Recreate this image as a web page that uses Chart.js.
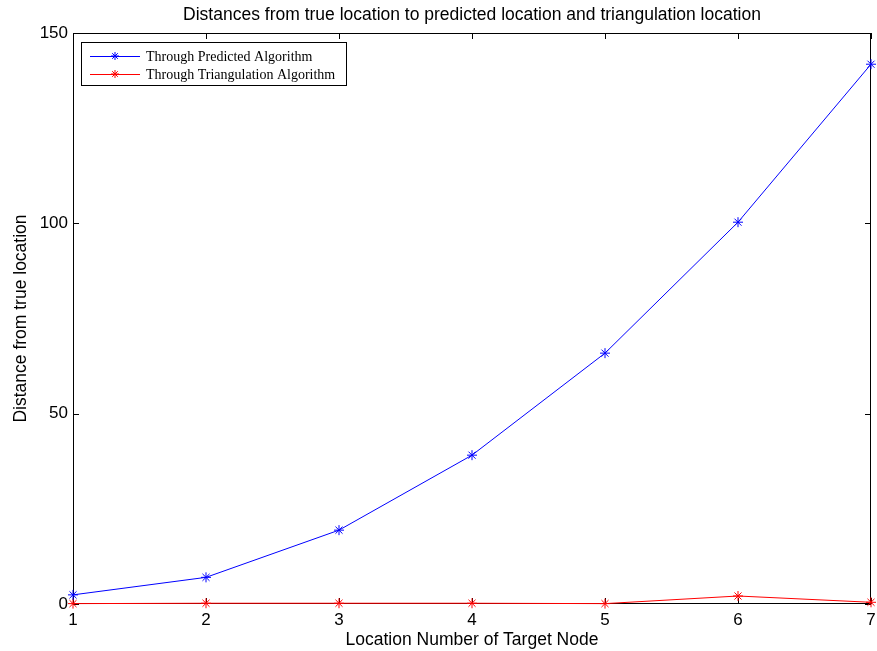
<!DOCTYPE html>
<html>
<head>
<meta charset="utf-8">
<script src="https://cdn.jsdelivr.net/npm/chart.js@4"></script>
<style>
  html,body{margin:0;padding:0;background:#fff;}
  #wrap{width:877px;height:651px;}
</style>
</head>
<body>
<div id="wrap"><canvas id="c" width="877" height="651"></canvas></div>
<script>
/* ---------------- data ---------------- */
const locations   = [1, 2, 3, 4, 5, 6, 7];
const predicted   = [2.4, 7.0, 19.4, 39.1, 65.9, 100.3, 141.8];
const triangulate = [0.1, 0.2, 0.2, 0.2, 0.1, 2.1, 0.45];
const yTicks      = [0, 50, 100, 150];

const pts = ys => locations.map((x,i)=>({x, y:ys[i]}));

/* ---------------- plugins ---------------- */
// MATLAB style box with inward ticks on all four sides (under the lines)
const boxTicks = {
  id:'boxTicks',
  beforeDatasetsDraw(chart){
    const {ctx, chartArea:a, scales:{x, y}} = chart;
    const L = 6;
    ctx.save();
    ctx.strokeStyle = '#000';
    ctx.lineWidth = 1;
    ctx.beginPath();
    locations.forEach(v=>{
      const px = Math.round(x.getPixelForValue(v)) + 0.5;
      ctx.moveTo(px, a.bottom); ctx.lineTo(px, a.bottom - L);
      ctx.moveTo(px, a.top);    ctx.lineTo(px, a.top + L);
    });
    yTicks.forEach(v=>{
      const py = Math.round(y.getPixelForValue(v)) + 0.5;
      ctx.moveTo(a.left, py);  ctx.lineTo(a.left + L, py);
      ctx.moveTo(a.right, py); ctx.lineTo(a.right - L, py);
    });
    ctx.stroke();
    ctx.strokeRect(Math.round(a.left)+0.5, Math.round(a.top)+0.5,
                   Math.round(a.right-a.left)-1, Math.round(a.bottom-a.top)-1);
    ctx.restore();
  }
};

// legend box inside the plot, top-left
const boxLegend = {
  id:'boxLegend',
  afterDraw(chart){
    const {ctx, chartArea:a} = chart;
    const bx = a.left + 8, by = a.top + 9, bw = 265, bh = 43;
    ctx.save();
    ctx.fillStyle = '#fff';
    ctx.fillRect(bx, by, bw, bh);
    ctx.strokeStyle = '#000';
    ctx.lineWidth = 1;
    ctx.strokeRect(bx + 0.5, by + 0.5, bw, bh);
    ctx.font = '14px "Liberation Serif", "Times New Roman", serif';
    ctx.textBaseline = 'middle';
    chart.data.datasets.forEach((ds,i)=>{
      const ry = by + 14 + i*18;
      ctx.strokeStyle = ds.borderColor;
      ctx.beginPath();
      ctx.moveTo(bx + 9, ry + 0.5); ctx.lineTo(bx + 59, ry + 0.5);
      ctx.stroke();
      // asterisk marker
      const cx = bx + 34, r = 4;
      ctx.beginPath();
      ctx.moveTo(cx, ry - r); ctx.lineTo(cx, ry + r);
      ctx.moveTo(cx - r, ry); ctx.lineTo(cx + r, ry);
      ctx.moveTo(cx - r*0.7, ry - r*0.7); ctx.lineTo(cx + r*0.7, ry + r*0.7);
      ctx.moveTo(cx - r*0.7, ry + r*0.7); ctx.lineTo(cx + r*0.7, ry - r*0.7);
      ctx.stroke();
      ctx.fillStyle = '#000';
      ctx.fillText(ds.label, bx + 65, ry + 1);
    });
    ctx.restore();
  }
};

/* ---------------- chart ---------------- */
const font  = {family:'"Liberation Sans", Arial, sans-serif', size:17};
const tfont = {family:'"Liberation Sans", Arial, sans-serif', size:17.5};

new Chart(document.getElementById('c'),{
  type:'line',
  data:{
    datasets:[
      {label:'Through Predicted Algorithm', data:pts(predicted),
       borderColor:'#0000ff', backgroundColor:'#0000ff', borderWidth:1,
       pointStyle:'star', pointRadius:5, pointBorderWidth:1, tension:0, clip:false},
      {label:'Through Triangulation Algorithm', data:pts(triangulate),
       borderColor:'#ff0000', backgroundColor:'#ff0000', borderWidth:1,
       pointStyle:'star', pointRadius:5, pointBorderWidth:1, tension:0, clip:false}
    ]
  },
  options:{
    responsive:false,
    animation:false,
    layout:{padding:{left:0, right:5, top:0, bottom:0}},
    plugins:{
      legend:{display:false},
      tooltip:{enabled:false},
      title:{display:true, fullSize:false,
             text:'Distances from true location to predicted location and triangulation location',
             color:'#000', font:{...tfont, weight:'normal'}, padding:{top:5, bottom:7}}
    },
    scales:{
      x:{type:'linear', min:1, max:7,
         afterBuildTicks:s=>{ s.ticks = locations.map(v=>({value:v})); },
         afterFit:s=>{ s.height = 47; s.paddingLeft = 0; s.paddingRight = 0; },
         grid:{display:false, drawTicks:false},
         border:{display:false},
         ticks:{color:'#000', font, padding:6, maxRotation:0},
         title:{display:true, text:'Location Number of Target Node', color:'#000', font:tfont, padding:{top:0, bottom:0}}},
      y:{type:'linear', min:0, max:150,
         afterBuildTicks:s=>{ s.ticks = yTicks.map(v=>({value:v})); },
         afterFit:s=>{ s.width = 73; s.paddingTop = 0; s.paddingBottom = 0; },
         grid:{display:false, drawTicks:false},
         border:{display:false},
         ticks:{color:'#000', font, padding:5},
         title:{display:true, text:'Distance from true location', color:'#000', font:tfont, padding:{top:11, bottom:0}}}
    }
  },
  plugins:[boxTicks, boxLegend]
});
</script>
</body>
</html>
